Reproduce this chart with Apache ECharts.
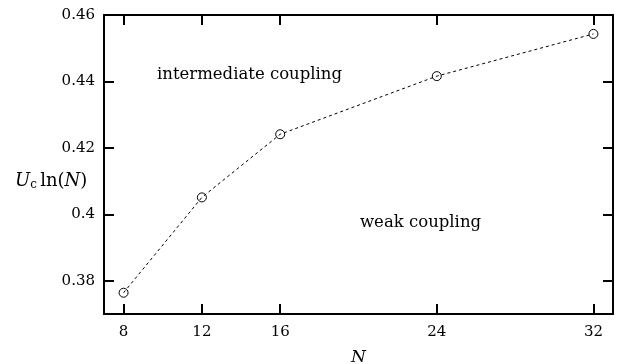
<!DOCTYPE html>
<html><head><meta charset="utf-8">
<script src="https://cdn.jsdelivr.net/npm/echarts@6/dist/echarts.min.js"></script>
<style>html,body{margin:0;padding:0;background:#fff}#c{width:623px;height:364px}</style>
</head><body><div id="c"></div>
<script>
const nValues = [8, 12, 16, 24, 32];
const ucLnN = [0.3764, 0.4051, 0.4241, 0.4416, 0.4543];
const xTicks = [8, 12, 16, 24, 32];
const yTicks = [0.38, 0.40, 0.42, 0.44, 0.46];
const yTickLabels = ['0.38', '0.4', '0.42', '0.44', '0.46'];

const FONT = '"DejaVu Serif", "Liberation Serif", serif';
const chart = echarts.init(document.getElementById('c'));
const axisLine = {show: true, lineStyle: {color: '#000', width: 2}};
const tickStyle = {lineStyle: {color: '#000', width: 2}};
function xAx(pos, lab) {
  return {type: 'value', position: pos, min: 7, max: 33,
    axisLine: axisLine,
    axisTick: Object.assign({show: true, inside: true, length: 10, customValues: xTicks}, tickStyle),
    axisLabel: {show: lab, customValues: xTicks, margin: 11, color: '#000', fontFamily: FONT, fontSize: 15},
    splitLine: {show: false},
    name: lab ? 'N' : '', nameLocation: 'middle', nameGap: 35,
    nameTextStyle: {fontFamily: FONT, fontStyle: 'italic', fontSize: 17, color: '#000'}};
}
function yAx(pos, lab) {
  return {type: 'value', position: pos, min: 0.37, max: 0.46,
    axisLine: axisLine,
    axisTick: Object.assign({show: true, inside: true, length: 10, customValues: yTicks}, tickStyle),
    axisLabel: {show: lab, customValues: yTicks, margin: 9, color: '#000', fontFamily: FONT, fontSize: 15,
      formatter: v => { const i = yTicks.findIndex(t => Math.abs(t - v) < 1e-9); return i >= 0 ? yTickLabels[i] : ''; }},
    splitLine: {show: false}};
}
chart.setOption({
  animation: false,
  backgroundColor: '#fff',
  grid: {left: 104, right: 10, top: 15, bottom: 50, containLabel: false, outerBoundsMode: 'none'},
  xAxis: [xAx('bottom', true), xAx('top', false)],
  yAxis: [yAx('left', true), yAx('right', false)],
  series: [{
    type: 'line',
    data: nValues.map((n, i) => [n, ucLnN[i]]),
    symbol: 'circle', symbolSize: 9,
    itemStyle: {color: 'rgba(0,0,0,0)', borderColor: '#000', borderWidth: 1},
    lineStyle: {color: '#000', width: 1, type: [3, 3]},
    z: 2
  }],
  graphic: [
    {type: 'text', left: 157, top: 66, style: {text: 'intermediate coupling', font: '16.5px ' + FONT, fill: '#000'}},
    {type: 'text', left: 360, top: 214, style: {text: 'weak coupling', font: '16.5px ' + FONT, fill: '#000'}},
    {type: 'text', left: 15, top: 172, style: {
      text: '{i|U}{s|c} {r|ln(}{i|N}{r|)}',
      rich: {
        i: {fontFamily: FONT, fontStyle: 'italic', fontSize: 18, fill: '#000'},
        s: {fontFamily: FONT, fontSize: 12, fill: '#000', padding: [8, 0, 0, 0]},
        r: {fontFamily: FONT, fontSize: 18, fill: '#000'}
      }}}
  ]
});
</script></body></html>
